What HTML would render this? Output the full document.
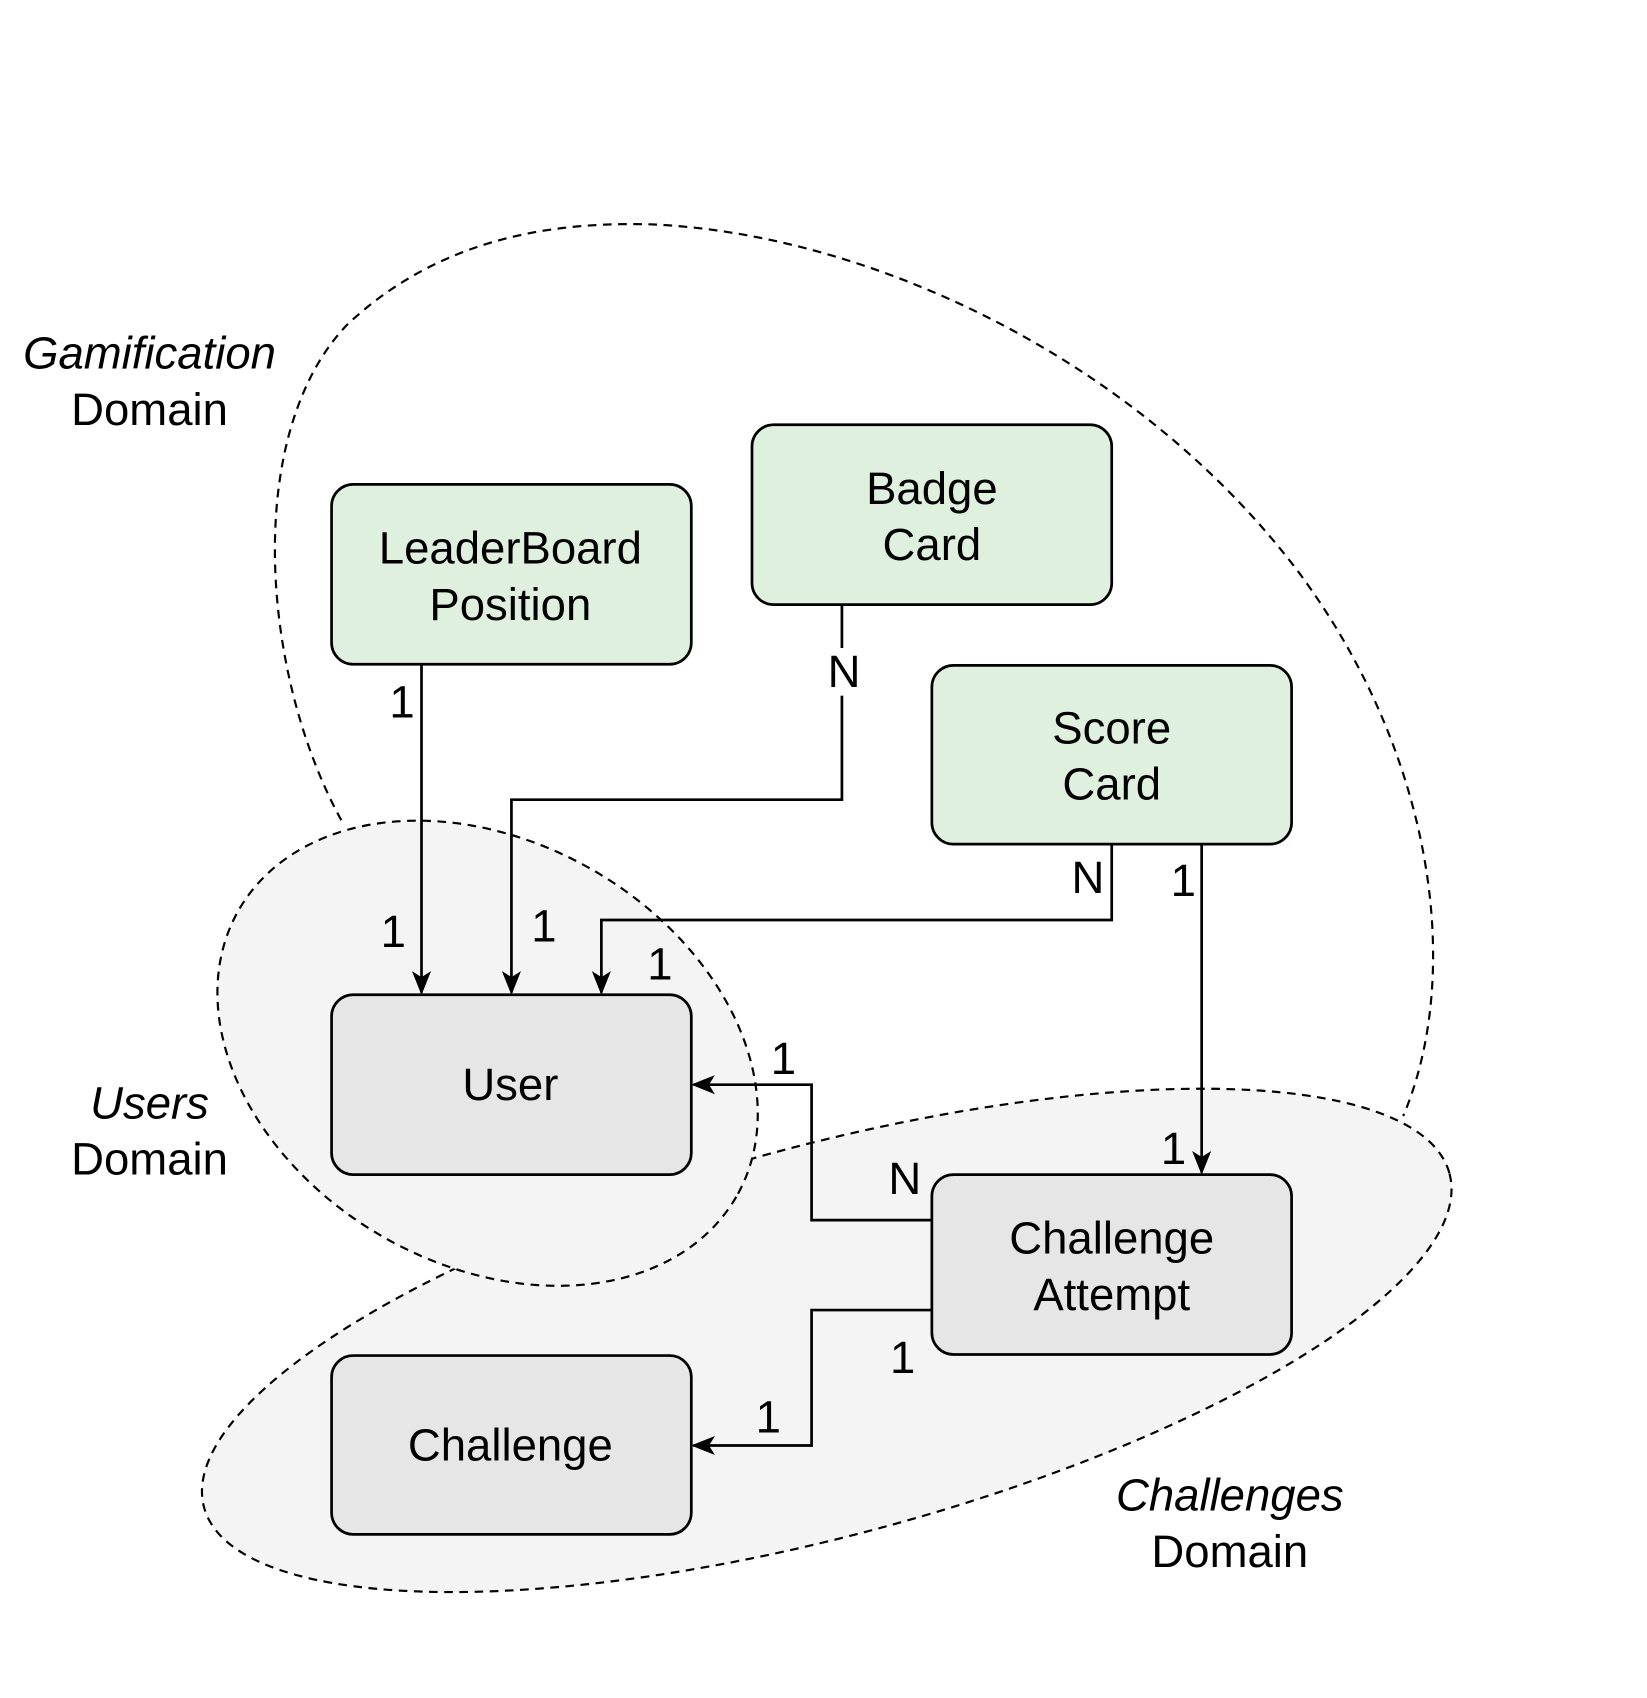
<!DOCTYPE html>
<html><head><meta charset="utf-8"><style>
html,body{margin:0;padding:0;background:#fff}
svg{display:block}
text{font-family:"Liberation Sans",sans-serif;font-size:42px;fill:#000}
</style></head><body>
<svg width="1647" height="1698" viewBox="0 0 1520 1567" xmlns="http://www.w3.org/2000/svg">
<defs>
<marker id="b" viewBox="0 0 20 20" markerWidth="22" markerHeight="22" refX="18" refY="10" orient="auto" markerUnits="userSpaceOnUse"><path d="M0,2 L20,10 L0,18 L5,10 Z" fill="#000"/></marker></defs>
<path d="M315,757 C240,620 225,400 320,300 C410,215 520,205 600,207 C800,215 1050,330 1200,530 C1325,700 1350,900 1295,1030" fill="none" stroke="#000" stroke-width="2" stroke-dasharray="8,6"/>
<ellipse cx="763" cy="1237" rx="595" ry="180" transform="rotate(-15 763 1237)" fill="#f4f4f4" stroke="#000" stroke-width="2" stroke-dasharray="8,6"/>
<ellipse cx="450" cy="972" rx="265" ry="195" transform="rotate(30 450 972)" fill="#f4f4f4" stroke="#000" stroke-width="2" stroke-dasharray="8,6"/>
<g stroke="#000" stroke-width="2.5">
<rect x="306" y="447" width="332" height="166" rx="20" fill="#dff0de"/>
<rect x="694" y="392" width="332" height="166" rx="20" fill="#dff0de"/>
<rect x="860" y="614" width="332" height="165" rx="20" fill="#dff0de"/>
<rect x="306" y="918" width="332" height="166" rx="20" fill="#e6e6e6"/>
<rect x="860" y="1084" width="332" height="166" rx="20" fill="#e6e6e6"/>
<rect x="306" y="1251" width="332" height="165" rx="20" fill="#e6e6e6"/>
</g>
<g stroke="#000" stroke-width="2.5" fill="none" marker-end="url(#b)">
<path d="M389,613 V916"/>
<path d="M777,558 V738 H472 V916"/>
<path d="M1026,779 V849 H555 V916"/>
<path d="M1109,779 V1082"/>
<path d="M860,1126 H749 V1001 H640"/>
<path d="M860,1209 H749 V1334 H640"/>
</g>
<rect x="762" y="598" width="32" height="44" fill="#fff"/>
<g text-anchor="middle">
<text x="471" y="520">LeaderBoard</text><text x="471" y="572">Position</text>
<text x="860" y="465">Badge</text><text x="860" y="517">Card</text>
<text x="1026" y="686">Score</text><text x="1026" y="738">Card</text>
<text x="471" y="1015">User</text>
<text x="1026" y="1157">Challenge</text><text x="1026" y="1209">Attempt</text>
<text x="471" y="1348">Challenge</text>
<text x="138" y="340" font-style="italic">Gamification</text><text x="138" y="392">Domain</text>
<text x="138" y="1032" font-style="italic">Users</text><text x="138" y="1084">Domain</text>
<text x="1135" y="1394" font-style="italic">Challenges</text><text x="1135" y="1446">Domain</text>
<text x="371" y="662">1</text><text x="363" y="874">1</text>
<text x="779" y="634">N</text><text x="502" y="869">1</text>
<text x="1004" y="824">N</text><text x="609" y="904">1</text>
<text x="1092" y="827">1</text><text x="1083" y="1074">1</text>
<text x="835" y="1102">N</text><text x="723" y="991">1</text>
<text x="833" y="1267">1</text><text x="709" y="1322">1</text>
</g>
</svg>
</body></html>
